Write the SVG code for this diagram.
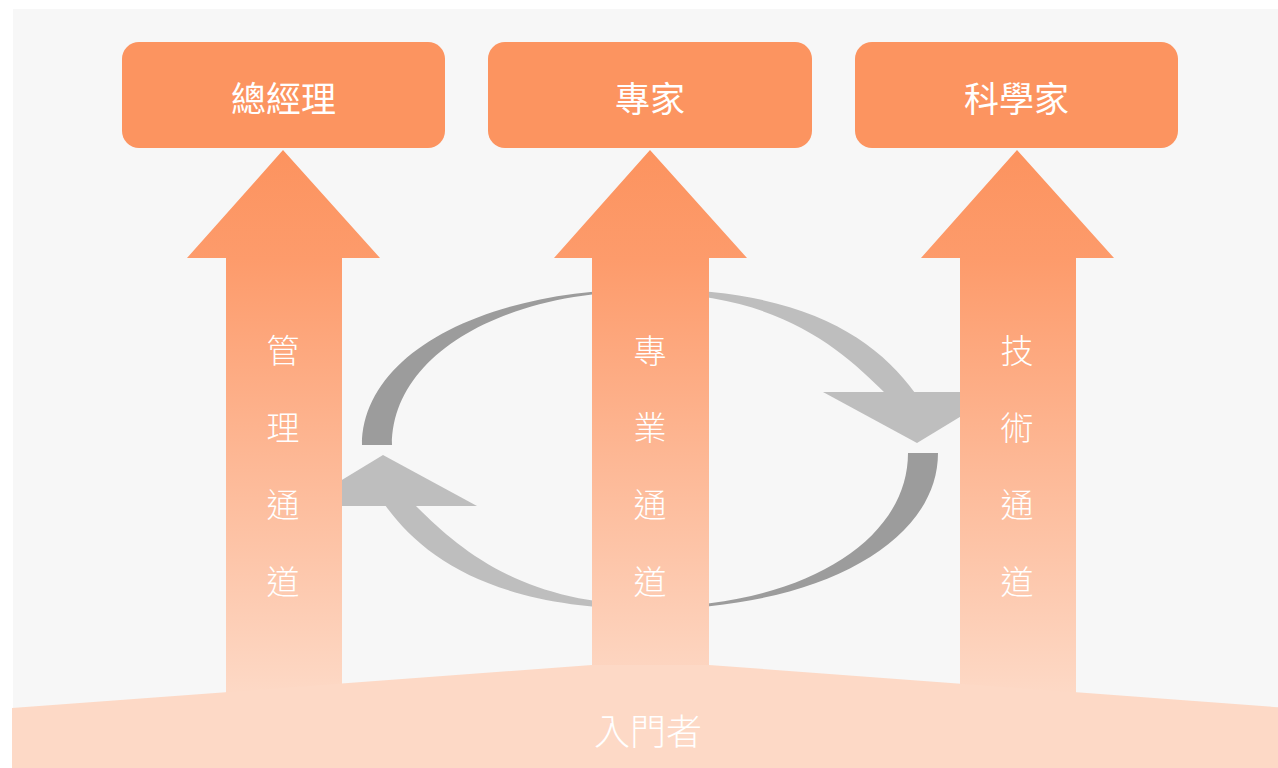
<svg xmlns="http://www.w3.org/2000/svg" width="1278" height="768" viewBox="0 0 1278 768">
  <defs>
    <linearGradient id="shaftGrad" gradientUnits="userSpaceOnUse" x1="0" y1="150" x2="0" y2="695">
      <stop offset="0" stop-color="#fc935f"/>
      <stop offset="0.2" stop-color="#fd9b6b"/>
      <stop offset="1" stop-color="#fdd9c6"/>
    </linearGradient>
    <style>
      .box { fill: #fc9460; }
      .boxText { font-family: "Noto Sans CJK TC", "Noto Sans CJK SC", sans-serif; font-size: 35px; font-weight: 400; fill: #ffffff; text-anchor: middle; dominant-baseline: central; }
      .chanText { font-family: "Noto Sans CJK TC", "Noto Sans CJK SC", sans-serif; font-size: 33px; font-weight: 300; fill: #ffffff; text-anchor: middle; dominant-baseline: central; }
      .baseText { font-family: "Noto Sans CJK TC", "Noto Sans CJK SC", sans-serif; font-size: 36px; font-weight: 300; fill: #ffffff; text-anchor: middle; dominant-baseline: central; }
      .arrow { fill: url(#shaftGrad); }
      .dark { fill: #9c9c9c; }
      .light { fill: #bebebe; }
    </style>
  </defs>

  <rect x="0" y="0" width="1278" height="768" fill="#ffffff"/>
  <rect x="13" y="9" width="1265" height="759" fill="#f7f7f7"/>

  <g id="connectors">
    <g id="cycle-left">
      <path class="dark" d="M362,445 C362,354.5 483,289 650,289 L650,291 C500.4,291 392,355.7 392,445 Z"/>
      <path class="light" d="M385,505 C425.6,561.7 500,609 650,609 L650,605 C520,604 457.4,547.4 415,505 Z"/>
      <polygon class="light" points="383,455 299,506 477,506"/>
    </g>
    <g id="cycle-right" transform="rotate(180 650 449)">
      <path class="dark" d="M362,445 C362,354.5 483,289 650,289 L650,291 C500.4,291 392,355.7 392,445 Z"/>
      <path class="light" d="M385,505 C425.6,561.7 500,609 650,609 L650,605 C520,604 457.4,547.4 415,505 Z"/>
      <polygon class="light" points="383,455 299,506 477,506"/>
    </g>
  </g>

  <g id="channel-management">
    <polygon class="arrow" points="283,150 380,258 342,258 342,700 226,700 226,258 187,258"/>
    <text class="chanText"><tspan x="283" y="349">管</tspan><tspan x="283" y="426">理</tspan><tspan x="283" y="503">通</tspan><tspan x="283" y="580">道</tspan></text>
  </g>
  <g id="channel-professional">
    <polygon class="arrow" points="650,150 747,258 709,258 709,700 592,700 592,258 554,258"/>
    <text class="chanText"><tspan x="650" y="349">專</tspan><tspan x="650" y="426">業</tspan><tspan x="650" y="503">通</tspan><tspan x="650" y="580">道</tspan></text>
  </g>
  <g id="channel-technical">
    <polygon class="arrow" points="1017,150 1114,258 1076,258 1076,700 960,700 960,258 921,258"/>
    <text class="chanText"><tspan x="1017" y="349">技</tspan><tspan x="1017" y="426">術</tspan><tspan x="1017" y="503">通</tspan><tspan x="1017" y="580">道</tspan></text>
  </g>

  <g id="entry">
    <polygon points="12,708 592,665 709,665 1288,708 1288,768 12,768" fill="#fdd9c6"/>
    <text class="baseText" x="648" y="729">入門者</text>
  </g>

  <g id="node-gm">
    <rect class="box" x="122" y="42" width="323" height="106" rx="17"/>
    <text class="boxText" x="283.5" y="96">總經理</text>
  </g>
  <g id="node-expert">
    <rect class="box" x="488" y="42" width="324" height="106" rx="17"/>
    <text class="boxText" x="650" y="96">專家</text>
  </g>
  <g id="node-scientist">
    <rect class="box" x="855" y="42" width="323" height="106" rx="17"/>
    <text class="boxText" x="1016.5" y="96">科學家</text>
  </g>
</svg>
